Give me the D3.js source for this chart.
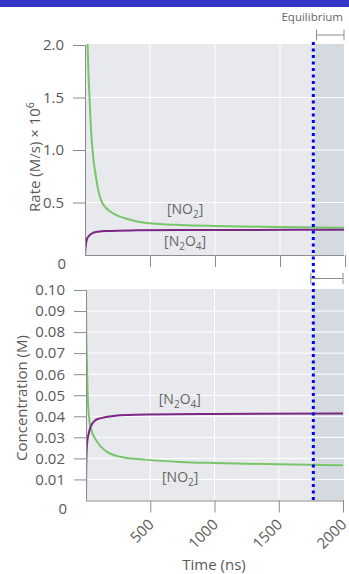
<!DOCTYPE html>
<html><head><meta charset="utf-8">
<script src="https://cdn.jsdelivr.net/npm/d3@7"></script>
<style>
html,body{margin:0;padding:0;background:#fff;}
svg{display:block;font-family:"Open Sans",sans-serif;}
</style></head>
<body><svg id="c" width="349" height="574"></svg>
<script>
// ---- data ----
const timeTicks = [500, 1000, 1500, 2000];
const timeTickLabels = ["500", "1000", "1500", "2000"];
const rateTicks = [0.5, 1.0, 1.5, 2.0];
const rateTickLabels = ["0.5", "1.0", "1.5", "2.0"];
const concTicks = [0.01, 0.02, 0.03, 0.04, 0.05, 0.06, 0.07, 0.08, 0.09, 0.10];
const concTickLabels = ["0.01", "0.02", "0.03", "0.04", "0.05", "0.06", "0.07", "0.08", "0.09", "0.10"];
const zeroLabel = "0";
const equilibriumTime = 1769;

// rate of NO2 / N2O4 (M/s × 10^6)
const rateNO2Time = [5, 10, 20, 27, 35, 45, 58, 70, 85, 105, 131, 160, 200, 250, 321, 400, 474, 600, 731, 1000, 1500, 2000];
const rateNO2 = [3.5, 2.6, 2.0, 1.72, 1.5, 1.22, 1.0, 0.86, 0.74, 0.6, 0.5, 0.45, 0.41, 0.375, 0.345, 0.32, 0.305, 0.293, 0.286, 0.277, 0.266, 0.26];
const rateN2O4Time = [0, 3, 8, 15, 25, 40, 64, 100, 167, 400, 731, 1200, 2000];
const rateN2O4 = [0, 0.06, 0.11, 0.15, 0.174, 0.195, 0.212, 0.222, 0.229, 0.235, 0.238, 0.239, 0.24];

// concentrations (M)
const concNO2Time = [0, 2, 5, 13, 23, 44, 70, 110, 161, 265, 473, 735, 1000, 1500, 2000];
const concNO2 = [0.1, 0.08, 0.07, 0.05, 0.04, 0.033, 0.0295, 0.026, 0.0232, 0.0208, 0.0193, 0.0183, 0.0178, 0.0172, 0.0168];
const concN2O4Time = [0, 1, 3, 5, 10, 18, 30, 44, 70, 109, 212, 473, 1000, 2000];
const concN2O4 = [0, 0.012, 0.02, 0.0235, 0.028, 0.031, 0.034, 0.036, 0.038, 0.039, 0.0402, 0.0408, 0.0411, 0.0413];

// annotations: [time, value]
const topLabels = [{t: 770, v: 0.39, main: ["[NO", "2", "]"]}, {t: 770, v: 0.086, main: ["[N", "2", "O", "4", "]"]}];
const botLabels = [{t: 730, v: 0.0457, main: ["[N", "2", "O", "4", "]"]}, {t: 733, v: 0.0087, main: ["[NO", "2", "]"]}];

const green = "#79c56c", purple = "#7a2682", axisGray = "#8c8c8c", textGray = "#595959";
const tickFont = "15px", titleFont = "15px";

const svg = d3.select("#c");
svg.append("rect").attr("x", 0).attr("y", 0).attr("width", 349).attr("height", 7).attr("fill", "#3434c8");

const xTop = d3.scaleLinear().domain([0, 2000]).range([85, 345]);
const xBot = d3.scaleLinear().domain([0, 2000]).range([86, 343]);
const yTop = d3.scaleLinear().domain([0, 2]).range([255, 45]);
const yBot = d3.scaleLinear().domain([0, 0.1]).range([500.5, 290]);

function panel(x, y, yTicks, yLabels, timeArrs, valArrs, colors, labels, showX, id) {
  const g = svg.append("g");
  const x0 = x.range()[0], x1 = 344, y0 = y.range()[0], y1 = y.range()[1] - 1;
  g.append("rect").attr("x", x0).attr("y", y1).attr("width", x1 - x0).attr("height", y0 - y1).attr("fill", "#e8e9ec");
  g.append("rect").attr("x", x(equilibriumTime)).attr("y", y1).attr("width", x1 - x(equilibriumTime)).attr("height", y0 - y1).attr("fill", "#d5dae1");
  g.selectAll(".gy").data(yTicks.slice(0, -1)).join("line")
    .attr("x1", x0).attr("x2", x1).attr("y1", d => y(d)).attr("y2", d => y(d))
    .attr("stroke", "#fff").attr("stroke-width", 1);
  g.selectAll(".gx").data(timeTicks.slice(0, -1)).join("line")
    .attr("x1", d => x(d)).attr("x2", d => x(d)).attr("y1", y1).attr("y2", y0)
    .attr("stroke", "#fff").attr("stroke-width", 1);
  svg.append("clipPath").attr("id", id).append("rect").attr("x", x0).attr("y", y1).attr("width", x1 - x0).attr("height", y0 - y1);
  const line = d3.line().curve(d3.curveMonotoneX);
  valArrs.forEach((vals, i) => {
    const pts = vals.map((v, j) => [x(timeArrs[i][j]), y(v)]);
    g.append("path").attr("d", line(pts)).attr("fill", "none").attr("stroke", colors[i])
      .attr("stroke-width", 2).attr("clip-path", `url(#${id})`);
  });
  const ya = d3.axisLeft(y).tickValues(yTicks).tickFormat((d, i) => yLabels[i]).tickSize(12).tickSizeOuter(0).tickPadding(9);
  const yg = g.append("g").attr("transform", `translate(${x0},0)`).call(ya);
  yg.select(".domain").attr("stroke", axisGray);
  yg.selectAll(".tick line").attr("stroke", axisGray);
  yg.selectAll(".tick text").attr("fill", textGray).style("font-size", tickFont).style("font-family", "Open Sans");
  g.append("text").attr("x", x0 - 19).attr("y", y0 + 13.5).attr("text-anchor", "end")
    .attr("fill", textGray).style("font-size", tickFont).text(zeroLabel);
  const xa = d3.axisBottom(x).tickValues(timeTicks).tickSize(12).tickSizeOuter(0)
    .tickFormat((d, i) => showX ? timeTickLabels[i] : "");
  const xg = g.append("g").attr("transform", `translate(0,${y0})`).call(xa);
  xg.select(".domain").attr("stroke", axisGray).attr("d", `M${x0},0.5H${x1}`);
  xg.selectAll(".tick line").attr("stroke", axisGray);
  xg.selectAll(".tick text").attr("fill", textGray).style("font-size", tickFont).style("font-family", "Open Sans")
    .attr("text-anchor", "end").attr("x", 4).attr("y", 25).attr("dy", 0)
    .attr("transform", "rotate(-45,4,25)");
  labels.forEach(L => {
    const t = g.append("text").attr("x", x(L.t)).attr("y", y(L.v)).attr("text-anchor", "middle")
      .attr("fill", "#666").style("font-size", "14px");
    L.main.forEach((s, k) => {
      const sub = k % 2 === 1;
      t.append("tspan").text(s).style("font-size", sub ? "10px" : "14px")
        .attr("dy", sub ? 4 : (k === 0 ? 0 : -4));
    });
  });
}

panel(xTop, yTop, rateTicks, rateTickLabels, [rateNO2Time, rateN2O4Time], [rateNO2, rateN2O4], [green, purple], topLabels, false, "clipTop");
panel(xBot, yBot, concTicks, concTickLabels, [concNO2Time, concN2O4Time], [concNO2, concN2O4], [green, purple], botLabels, true, "clipBot");

svg.append("line").attr("x1", xBot(equilibriumTime)).attr("x2", xBot(equilibriumTime))
  .attr("y1", 42).attr("y2", 503).attr("stroke", "#0000ff").attr("stroke-width", 3)
  .attr("stroke-dasharray", "3,3.5");

function bracket(xa, xb, yc) {
  const p = d3.path();
  p.moveTo(xa, yc - 5.5); p.lineTo(xa, yc + 5.5);
  p.moveTo(xa, yc); p.lineTo(xb, yc);
  p.moveTo(xb, yc - 5.5); p.lineTo(xb, yc + 5.5);
  svg.append("path").attr("d", p.toString()).attr("fill", "none").attr("stroke", axisGray).attr("stroke-width", 1);
}
bracket(xTop(equilibriumTime) + 1.5, 344, 35);
bracket(xBot(equilibriumTime) - 2.5, 343, 278.5);
svg.append("text").attr("x", 343).attr("y", 21).attr("text-anchor", "end").attr("fill", "#666")
  .style("font-size", "11.5px").text("Equilibrium");

const rt = svg.append("text").attr("transform", "translate(40,157) rotate(-90)").attr("text-anchor", "middle")
  .attr("fill", textGray).style("font-size", titleFont);
rt.append("tspan").text("Rate (M/s) \u00d7 10");
rt.append("tspan").text("6").style("font-size", "10.5px").attr("dy", -6);
svg.append("text").attr("transform", "translate(27,398) rotate(-90)").attr("text-anchor", "middle")
  .attr("fill", textGray).style("font-size", titleFont).text("Concentration (M)");
svg.append("text").attr("x", 214).attr("y", 570).attr("text-anchor", "middle")
  .attr("fill", textGray).style("font-size", titleFont).text("Time (ns)");
</script></body></html>
